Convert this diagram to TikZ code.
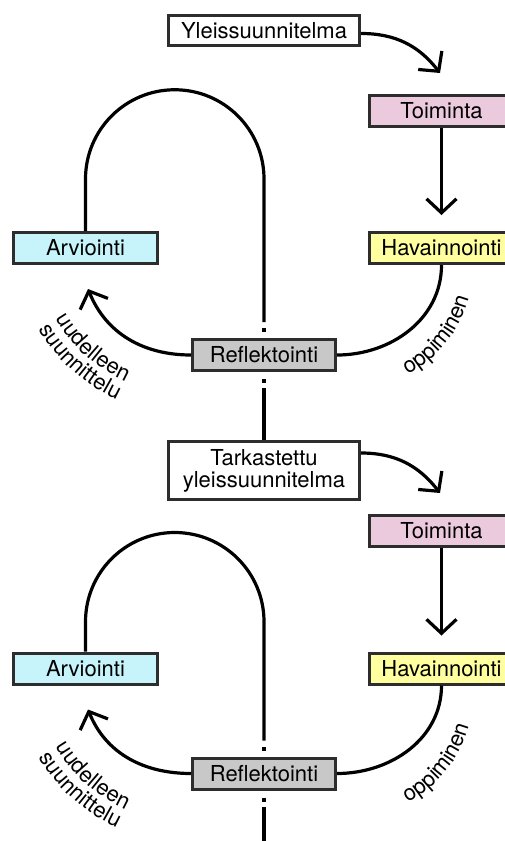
\documentclass[tikz,border=0pt]{standalone}
\usepackage{fontspec}
\setmainfont{TeX Gyre Heros}
\usetikzlibrary{arrows.meta, decorations.text}
\definecolor{toimcol}{RGB}{236,202,222}
\definecolor{havcol}{RGB}{255,255,160}
\definecolor{arvcol}{RGB}{198,244,250}
\definecolor{refcol}{RGB}{200,200,200}
\definecolor{boxline}{RGB}{45,45,45}
\newcommand\boxfont{\fontsize{22pt}{22pt}\selectfont}
\tikzset{
  box/.style={draw=boxline, line width=3pt, inner sep=0pt, minimum width=144pt, minimum height=31pt, font=\boxfont},
  planbox/.style={box, fill=white, minimum width=191pt, align=center},
  flow/.style={line width=3.2pt},
  arr/.style={flow, -{Straight Barb[length=14pt, width=30pt]}},
  curvetext/.style={decorate, decoration={text along path, text align=center, text={#1}}},
}

\begin{document}
\begin{tikzpicture}[x=1pt, y=1pt]
                    \useasboundingbox (0,0) rectangle (505,-841);
                    \node[planbox, minimum height=30pt] (plan1) at (264,-30.5) {Yleissuunnitelma};
                    \node[box, fill=toimcol] (act1) at (441.5,-111) {Toiminta};
                    \node[box, fill=havcol] (obs1) at (441.5,-248) {Havainnointi};
                    \node[box, fill=arvcol] (eval1) at (85.5,-248) {Arviointi};
                    \node[box, fill=refcol, minimum width=143pt] (refl1) at (264,-355) {Reflektointi};
                    \node[planbox, minimum height=58pt] (plan2) at (264,-470.5) {Tarkastettu\\yleissuunnitelma};
                    \node[box, fill=toimcol] (act2) at (441.5,-531) {Toiminta};
                    \node[box, fill=havcol] (obs2) at (441.5,-668.5) {Havainnointi};
                    \node[box, fill=arvcol] (eval2) at (85.5,-668.5) {Arviointi};
                    \node[box, fill=refcol, minimum width=143pt] (refl2) at (264,-773.5) {Reflektointi};
                    \coordinate (bottom) at (264,-845);
                    \coordinate (reuse1) at (190,-240);
                    \coordinate (learn1) at (351,-265);
                    \coordinate (reuse2) at (190,-668);
                    \coordinate (learn2) at (351,-693);

                    \draw[arr] ([yshift=-3pt]plan1.east) to[out=0, in=128] ([xshift=-1.5pt, yshift=21pt]act1.north);
                    \draw[arr, shorten >=16pt] (act1) -- (obs1);
                    \draw[flow] (refl1.east) to[out=0, in=-90] (obs1.south);
                    \draw[arr] (refl1.west) to[out=180, in=-68] ([xshift=2.5pt, yshift=-24pt]eval1.south);
                    \draw[flow] (eval1.north) -- ++(0,52) arc[start angle=180, end angle=0, radius=89.25] -- ([yshift=16pt]refl1.north);
                    \draw[flow] ([yshift=6pt]refl1.north) -- ([yshift=10pt]refl1.north);
                    \draw[flow] ([yshift=-7pt]refl1.south) -- ([yshift=-11pt]refl1.south);
                    \draw[flow] ([yshift=-16pt]refl1.south) -- (plan2.north);
                    \path[curvetext={|\boxfont|uudelleen}] ([shift={(190:155.5)}]reuse1) arc[start angle=190, end angle=266, radius=155.5];
                    \path[curvetext={|\boxfont|suunnittelu}] ([shift={(190:175.5)}]reuse1) arc[start angle=190, end angle=266, radius=175.5];
                    \path[curvetext={|\boxfont|oppiminen}] ([shift={(-80:123)}]learn1) arc[start angle=-80, end angle=2, radius=123];

                    \draw[arr] ([yshift=-13pt]plan2.north east) to[out=0, in=128] ([xshift=-1.5pt, yshift=21pt]act2.north);
                    \draw[arr, shorten >=16pt] (act2) -- (obs2);
                    \draw[flow] (refl2.east) to[out=0, in=-90] (obs2.south);
                    \draw[arr] (refl2.west) to[out=180, in=-68] ([xshift=2.5pt, yshift=-24pt]eval2.south);
                    \draw[flow] (eval2.north) -- ++(0,29.75) arc[start angle=180, end angle=0, radius=89.25] -- ([yshift=16pt]refl2.north);
                    \draw[flow] ([yshift=6pt]refl2.north) -- ([yshift=10pt]refl2.north);
                    \draw[flow] ([yshift=-7pt]refl2.south) -- ([yshift=-11pt]refl2.south);
                    \draw[flow] ([yshift=-16pt]refl2.south) -- (bottom);
                    \path[curvetext={|\boxfont|uudelleen}] ([shift={(190:155.5)}]reuse2) arc[start angle=190, end angle=266, radius=155.5];
                    \path[curvetext={|\boxfont|suunnittelu}] ([shift={(190:175.5)}]reuse2) arc[start angle=190, end angle=266, radius=175.5];
                    \path[curvetext={|\boxfont|oppiminen}] ([shift={(-80:123)}]learn2) arc[start angle=-80, end angle=2, radius=123];
                \end{tikzpicture}
\end{document}
